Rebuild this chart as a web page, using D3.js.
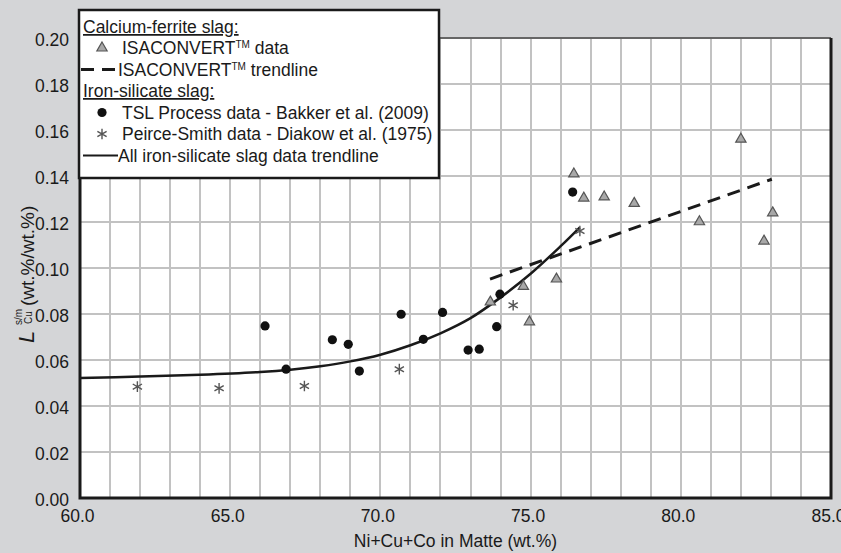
<!DOCTYPE html>
<html>
<head>
<meta charset="utf-8">
<script src="https://cdn.jsdelivr.net/npm/d3@7"></script>
<style>
  body { margin: 0; background: #d4d5d7; }
  text { font-family: "Liberation Sans", Arial, sans-serif; fill: #1a1a1a; }
</style>
</head>
<body>
<div id="chart"></div>
<script>
// ISACONVERT (calcium-ferrite slag) data
const isaX = [73.66, 74.76, 74.96, 75.86, 76.44, 76.77, 77.45, 78.45, 80.62, 82.0, 82.77, 83.06];
const isaY = [0.0852, 0.0920, 0.0766, 0.0952, 0.1409, 0.1304, 0.1309, 0.1281, 0.1201, 0.1560, 0.1117, 0.1240];

// TSL Process data - Bakker et al. (2009)
const tslX = [66.16, 66.86, 68.40, 68.93, 69.30, 70.69, 71.43, 72.07, 72.92, 73.29, 73.87, 73.98, 76.40];
const tslY = [0.0748, 0.0560, 0.0688, 0.0668, 0.0552, 0.0799, 0.0690, 0.0807, 0.0643, 0.0647, 0.0745, 0.0886, 0.1330];

// Peirce-Smith data - Diakow et al. (1975)
const psX = [61.91, 64.63, 67.47, 70.63, 74.42, 76.64];
const psY = [0.0484, 0.0477, 0.0487, 0.0560, 0.0838, 0.1161];

// ISACONVERT trendline (read end points)
const isaTrendX = [73.65, 83.03];
const isaTrendY = [0.0952, 0.1386];

// all iron-silicate slag trendline
const feTrendX = [60, 62, 64, 66, 67, 68, 69, 70, 71, 72, 73, 74, 75, 76, 76.64];
const feTrendY = [0.0522, 0.0528, 0.0536, 0.0548, 0.0558, 0.0573, 0.0594, 0.0623, 0.0664, 0.0716, 0.0782, 0.0872, 0.0975, 0.1095, 0.1177];

const xTicks = [60, 65, 70, 75, 80, 85];
const yTicks = [0, 0.02, 0.04, 0.06, 0.08, 0.10, 0.12, 0.14, 0.16, 0.18, 0.20];

const width = 841;
const height = 553;
const margin = { top: 38, right: 10, bottom: 55, left: 80 };

const svg = d3.select("#chart")
    .append("svg")
    .attr("width", width)
    .attr("height", height);

svg.append("rect")
    .attr("width", width)
    .attr("height", height)
    .attr("fill", "#d4d5d7");

const xScale = d3.scaleLinear().domain([60, 85]).range([margin.left, width - margin.right]);
const yScale = d3.scaleLinear().domain([0, 0.2]).range([height - margin.bottom, margin.top]);
const plotW = xScale(85) - xScale(60);
const plotH = yScale(0) - yScale(0.2);

// plot area
svg.append("rect")
    .attr("x", xScale(60))
    .attr("y", yScale(0.2))
    .attr("width", plotW)
    .attr("height", plotH)
    .attr("fill", "#ffffff");

// gridlines (every 1 wt.% and every 0.02)
const gridX = xScale.ticks(25);
svg.append("path")
    .attr("d", gridX.map(d => `M${Math.round(xScale(d))},${yScale(0.2)}V${yScale(0)}`).join("")
        + yTicks.map(d => `M${xScale(60)},${Math.round(yScale(d))}H${xScale(85)}`).join(""))
    .attr("fill", "none")
    .attr("stroke", "#c2c2c2")
    .attr("stroke-width", 2);

// frame
svg.append("line")
    .attr("x1", xScale(60)).attr("x2", xScale(85))
    .attr("y1", yScale(0.2)).attr("y2", yScale(0.2))
    .attr("stroke", "#666").attr("stroke-width", 2);
svg.append("path")
    .attr("d", `M${xScale(60)},${yScale(0.2)}V${yScale(0)}H${xScale(85)}V${yScale(0.2)}`)
    .attr("fill", "none")
    .attr("stroke", "#1a1a1a")
    .attr("stroke-width", 3);

// axis labels
const xAxis = d3.axisBottom(xScale).tickValues(xTicks).tickFormat(d3.format(".1f")).tickSize(0).tickPadding(12);
svg.append("g")
    .attr("transform", `translate(-3, ${yScale(0)})`)
    .call(xAxis)
    .call(g => g.select(".domain").remove())
    .selectAll("text")
    .attr("font-size", "17.5px")
    .attr("font-family", "Liberation Sans, Arial, sans-serif")
    .attr("fill", "#1a1a1a");

const yAxis = d3.axisLeft(yScale).tickValues(yTicks).tickFormat(d3.format(".2f")).tickSize(0).tickPadding(11);
svg.append("g")
    .attr("transform", `translate(${xScale(60)}, 2)`)
    .call(yAxis)
    .call(g => g.select(".domain").remove())
    .selectAll("text")
    .attr("font-size", "17.5px")
    .attr("font-family", "Liberation Sans, Arial, sans-serif")
    .attr("fill", "#1a1a1a");

// x axis title
svg.append("text")
    .attr("x", (xScale(60) + xScale(85)) / 2)
    .attr("y", 547)
    .attr("text-anchor", "middle")
    .attr("font-size", "17.5px")
    .text("Ni+Cu+Co in Matte (wt.%)");

// y axis title
const yTitle = svg.append("g")
    .attr("transform", `translate(34, 343) rotate(-90)`);
yTitle.append("text")
    .attr("x", 0).attr("y", 0)
    .attr("font-size", "22px")
    .attr("font-style", "italic")
    .text("L");
yTitle.append("text")
    .attr("x", 18).attr("y", -12)
    .attr("font-size", "10px")
    .text("s/m");
yTitle.append("text")
    .attr("x", 19).attr("y", -2)
    .attr("font-size", "10px")
    .text("Cu");
yTitle.append("text")
    .attr("x", 37).attr("y", 0)
    .attr("font-size", "19px")
    .text("(wt.%/wt.%)");

// trendlines
svg.append("path")
    .datum(d3.zip(isaTrendX, isaTrendY))
    .attr("d", d3.line().x(d => xScale(d[0])).y(d => yScale(d[1])))
    .attr("fill", "none")
    .attr("stroke", "#1a1a1a")
    .attr("stroke-width", 3)
    .attr("stroke-dasharray", "13,8");

svg.append("path")
    .datum(d3.zip(feTrendX, feTrendY))
    .attr("d", d3.line().x(d => xScale(d[0])).y(d => yScale(d[1])).curve(d3.curveCatmullRom))
    .attr("fill", "none")
    .attr("stroke", "#1a1a1a")
    .attr("stroke-width", 2.5);

// markers
const triangle = d3.symbol().type(d3.symbolTriangle).size(46);
const asterisk = d3.symbol().type(d3.symbolAsterisk).size(80);

svg.append("g")
    .selectAll("path")
    .data(d3.zip(isaX, isaY))
    .join("path")
    .attr("transform", d => `translate(${xScale(d[0])}, ${yScale(d[1])})`)
    .attr("d", triangle)
    .attr("fill", "#a8a8a8")
    .attr("stroke", "#555")
    .attr("stroke-width", 1.2);

svg.append("g")
    .selectAll("circle")
    .data(d3.zip(tslX, tslY))
    .join("circle")
    .attr("cx", d => xScale(d[0]))
    .attr("cy", d => yScale(d[1]))
    .attr("r", 4.6)
    .attr("fill", "#111");

svg.append("g")
    .selectAll("path")
    .data(d3.zip(psX, psY))
    .join("path")
    .attr("transform", d => `translate(${xScale(d[0])}, ${yScale(d[1])})`)
    .attr("d", asterisk)
    .attr("fill", "none")
    .attr("stroke", "#555")
    .attr("stroke-width", 1.4);

// legend
const legend = svg.append("g");
legend.append("rect")
    .attr("x", 79).attr("y", 10)
    .attr("width", 360).attr("height", 168)
    .attr("fill", "#ffffff")
    .attr("stroke", "#1a1a1a")
    .attr("stroke-width", 2.5);

const rowY = [27, 48, 69.5, 91, 112.5, 134, 155.5];

function headText(y, label) {
    legend.append("text")
        .attr("x", 83).attr("y", y + 6)
        .attr("font-size", "17.5px")
        .attr("text-decoration", "underline")
        .text(label);
}
function itemText(x, y, label, tm, rest) {
    const t = legend.append("text")
        .attr("x", x).attr("y", y + 6)
        .attr("font-size", "17.5px");
    t.append("tspan").text(label);
    if (tm) {
        t.append("tspan").attr("font-size", "10px").attr("dy", -6).text("TM");
        t.append("tspan").attr("dy", 6).text(rest);
    }
}

headText(rowY[0], "Calcium-ferrite slag:");
legend.append("path")
    .attr("transform", `translate(102, ${rowY[1]})`)
    .attr("d", triangle)
    .attr("fill", "#a8a8a8").attr("stroke", "#555").attr("stroke-width", 1.2);
itemText(122, rowY[1], "ISACONVERT", true, " data");
legend.append("line")
    .attr("x1", 81).attr("x2", 118)
    .attr("y1", rowY[2]).attr("y2", rowY[2])
    .attr("stroke", "#1a1a1a").attr("stroke-width", 3)
    .attr("stroke-dasharray", "13,8");
itemText(118, rowY[2], "ISACONVERT", true, " trendline");
headText(rowY[3], "Iron-silicate slag:");
legend.append("circle")
    .attr("cx", 102).attr("cy", rowY[4]).attr("r", 4.6).attr("fill", "#111");
itemText(122, rowY[4], "TSL Process data - Bakker et al. (2009)");
legend.append("path")
    .attr("transform", `translate(102, ${rowY[5]})`)
    .attr("d", asterisk)
    .attr("fill", "none").attr("stroke", "#555").attr("stroke-width", 1.4);
itemText(122, rowY[5], "Peirce-Smith data - Diakow et al. (1975)");
legend.append("line")
    .attr("x1", 83).attr("x2", 118)
    .attr("y1", rowY[6]).attr("y2", rowY[6])
    .attr("stroke", "#1a1a1a").attr("stroke-width", 2);
itemText(118, rowY[6], "All iron-silicate slag data trendline");
</script>
</body>
</html>
